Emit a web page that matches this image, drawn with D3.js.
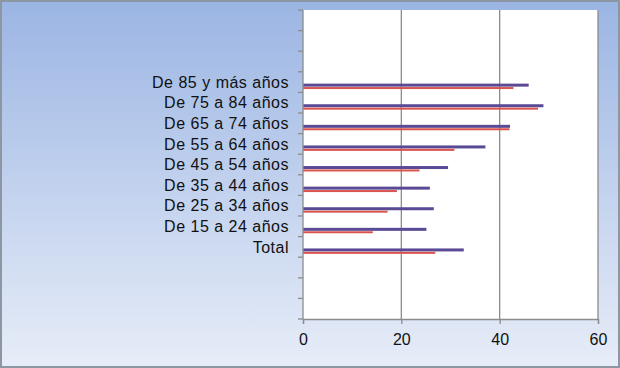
<!DOCTYPE html>
<html><head><meta charset="utf-8">
<script src="https://cdn.jsdelivr.net/npm/d3@7"></script>
<style>html,body{margin:0;padding:0;background:#fff}svg{display:block}</style>
</head><body>
<script>
const categories = ["e1", "e2", "e3", "De 85 y más años", "De 75 a 84 años", "De 65 a 74 años", "De 55 a 64 años", "De 45 a 54 años", "De 35 a 44 años", "De 25 a 34 años", "De 15 a 24 años", "Total", "e4", "e5", "e6"];
const seriesNames = ["Serie 1", "Serie 2"];
const series1 = [null, null, null, 45.9, 48.9, 42.1, 37.1, 29.5, 25.8, 26.6, 25.1, 32.7, null, null, null];
const series2 = [null, null, null, 42.8, 47.8, 42.0, 30.8, 23.7, 19.1, 17.2, 14.2, 26.9, null, null, null];
const xTicks = [0, 20, 40, 60];

const W = 620, H = 368;
const m = {left: 303, right: 22, top: 10, bottom: 49};
const svg = d3.select("body").append("svg").attr("width", W).attr("height", H);
const defs = svg.append("defs");
const g = defs.append("linearGradient").attr("id", "bg").attr("x1", 0).attr("y1", 0).attr("x2", 0).attr("y2", 1);
g.append("stop").attr("offset", "0%").attr("stop-color", "#9bb5e3");
g.append("stop").attr("offset", "100%").attr("stop-color", "#e7edf8");
svg.append("rect").attr("x", 1).attr("y", 1).attr("width", W - 2).attr("height", H - 2)
  .attr("fill", "url(#bg)").attr("stroke", "#8d96a3").attr("stroke-width", 2);

const x = d3.scaleLinear().domain([0, 60]).range([m.left, W - m.right]);
const y = d3.scaleBand().domain(categories).range([m.top, H - m.bottom]).padding(0);
const sub = d3.scaleBand().domain(seriesNames).range([y.bandwidth() / 2 + 1.5, y.bandwidth() / 2 + 7.5]).padding(0.05);

svg.append("rect").attr("x", x(0)).attr("y", m.top).attr("width", x(60) - x(0)).attr("height", H - m.bottom - m.top).attr("fill", "#fff");

// gridlines
svg.append("g").selectAll("line").data(xTicks.filter(d => d > 0)).join("line")
  .attr("x1", d => x(d)).attr("x2", d => x(d)).attr("y1", m.top).attr("y2", H - m.bottom)
  .attr("stroke", "#8c8c8c").attr("stroke-width", 1.3);

const colors = {"Serie 1": "#5a4a96", "Serie 2": "#d9534f"};
const thick = {"Serie 1": 3, "Serie 2": 2};
const data = [];
categories.forEach((c, i) => {
  if (series1[i] != null) data.push({c, s: "Serie 1", v: series1[i]});
  if (series2[i] != null) data.push({c, s: "Serie 2", v: series2[i]});
});
svg.append("g").selectAll("rect").data(data).join("rect")
  .attr("x", x(0))
  .attr("y", d => y(d.c) + sub(d.s) + sub.bandwidth() / 2 - thick[d.s] / 2)
  .attr("width", d => x(d.v) - x(0))
  .attr("height", d => thick[d.s])
  .attr("fill", d => colors[d.s]);

// axes
const xAxis = svg.append("g").attr("transform", `translate(0,${H - m.bottom})`)
  .call(d3.axisBottom(x).tickValues(xTicks).tickSize(5).tickPadding(10));
xAxis.select(".domain").attr("stroke", "#8c8c8c").attr("stroke-width", 1.3);
xAxis.selectAll(".tick line").attr("stroke", "#8c8c8c").attr("stroke-width", 1.3);
xAxis.selectAll("text").attr("font-family", "Liberation Sans, Arial, sans-serif").attr("font-size", 16).attr("fill", "#111");

const yTickPos = d3.range(categories.length + 1).map(i => m.top + i * y.step());
const yAx = svg.append("g");
yAx.append("line").attr("x1", x(0)).attr("x2", x(0)).attr("y1", m.top).attr("y2", H - m.bottom)
  .attr("stroke", "#8c8c8c").attr("stroke-width", 1.3);
yAx.selectAll("line.t").data(yTickPos).join("line").attr("class", "t")
  .attr("x1", x(0) - 5).attr("x2", x(0)).attr("y1", d => d).attr("y2", d => d)
  .attr("stroke", "#8c8c8c").attr("stroke-width", 1.3);
yAx.selectAll("text").data(categories.filter(c => !/^e\d$/.test(c))).join("text")
  .attr("x", x(0) - 14).attr("y", d => y(d) + y.bandwidth() / 2)
  .attr("dy", "0.35em").attr("text-anchor", "end")
  .attr("font-family", "Liberation Sans, Arial, sans-serif").attr("font-size", 16)
  .attr("letter-spacing", 0.5).attr("fill", "#111")
  .text(d => d);
</script>
</body></html>
